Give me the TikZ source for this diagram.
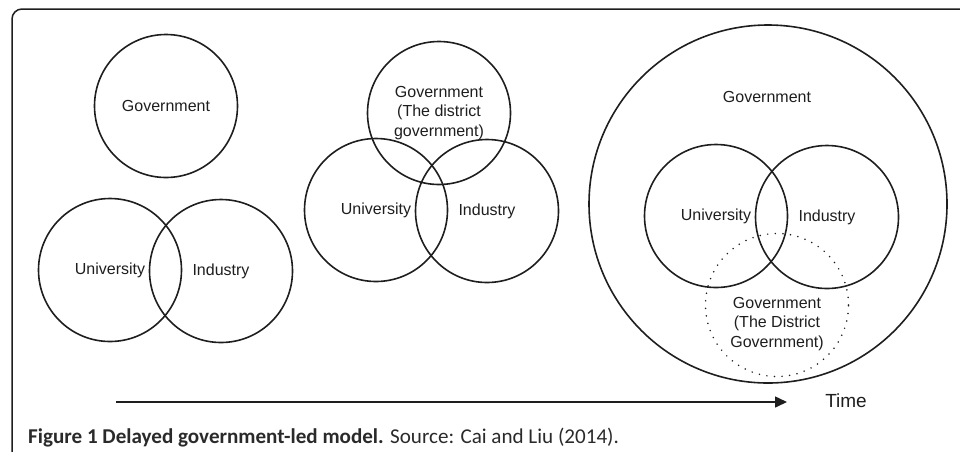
\documentclass[tikz,border=0pt]{standalone}
\usepackage{fontspec}
\setmainfont{Liberation Sans}
\newfontfamily\capfont{Carlito}
\usepackage{xcolor}
\usetikzlibrary{arrows.meta}
\definecolor{ink}{HTML}{1E1E1E}
\definecolor{capink}{HTML}{2A2A2A}

\begin{document}
\begin{tikzpicture}[x=1pt,y=-1pt]
\tikzset{ring/.style={circle, draw=ink, line width=1.6pt, minimum size=143pt, inner sep=0pt, align=center, text=ink, font=\fontsize{16}{19.5}\selectfont},
  dotring/.style={ring, draw=ink, line width=1.7pt, line cap=round, dash pattern=on 0pt off 7.6pt},
  lbl/.style={align=center, inner sep=0pt, text=ink, font=\fontsize{16}{19.5}\selectfont}}
\useasboundingbox (0,0) rectangle (960,451);
\draw[ink, line width=1.5pt, rounded corners=10pt] (12,480) |- (990,9);
% stage one
\node [ring] (gov1) at (166,106) {Government};
\node [ring] (uni1) at (110,270) {University};
\node [ring] (ind1) at (221,271) {Industry};
% stage two
\node [ring] (gov2) at (439,113) {Government\\(The district\\government)};
\node [ring] (uni2) at (376,210) {University};
\node [ring] (ind2) at (487,211) {Industry};
% stage three
\node [ring, minimum size=358pt] (gov3) at (768,204) {};
\node [lbl] (gov3lbl) at (767,97) {Government};
\node [ring] (uni3) at (716,216) {University};
\node [ring] (ind3) at (827,217) {Industry};
\node [dotring] (dist3) at (777,305) {};
\node [lbl] (dist3lbl) at (777,324) {Government\\(The District\\Government)};
% time axis
\coordinate (t0) at (116,402);
\coordinate (t1) at (787,402);
\draw [ink, line width=1.5pt, -{Triangle[length=12pt,width=11pt]}] (t0) -- (t1);
\node [lbl, font=\fontsize{19}{22}\selectfont] (time) at (846,401) {Time};
\node [anchor=base west, inner sep=0pt, text=capink, font=\capfont\fontsize{21.1}{25}\selectfont] (cap) at (28,443) {\textbf{Figure 1 Delayed government-led model.} Source: Cai and Liu (2014).};
\end{tikzpicture}
\end{document}
